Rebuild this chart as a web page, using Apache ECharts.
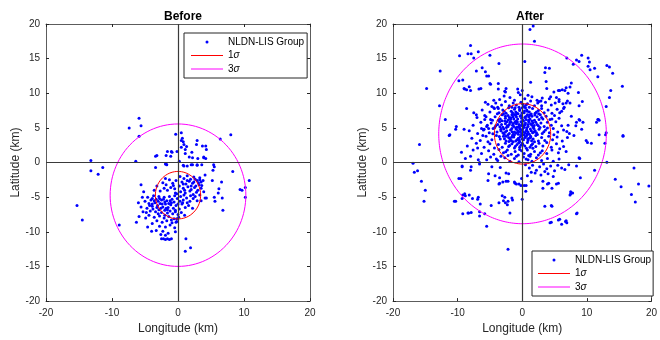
<!DOCTYPE html>
<html><head><meta charset="utf-8">
<script src="https://cdn.jsdelivr.net/npm/echarts@6/dist/echarts.min.js"></script>
<style>html,body{margin:0;padding:0;background:#fff}#c{width:660px;height:340px}</style>
</head><body><div id="c"></div>
<script>
// ---------- data ----------
const panelTitles = ['Before', 'After'];
const legendNames = ['NLDN-LIS Group', '1σ', '3σ'];
const seriesColors = ['#0000ff', '#ff0000', '#ff00ff'];
const xRange = [-20, 20, 10];
const yRange = [-20, 20, 5];
const beforeCenter = [0, -4.71];
const beforeSigma = [3.43, 10.28];
const afterCenter = [0.05, 4.14];
const afterSigma = [4.36, 12.97];

const beforePoints = [
[-5.9,6.4],[-7.4,5.0],[-5.6,5.3],[-5.9,3.8],[-0.35,4.1],[0.5,4.3],[6.4,3.4],[8.0,4.0],
[-13.2,0.3],[-11.4,-0.7],[-13.2,-1.2],[-12.1,-1.7],[-15.3,-6.2],[-14.5,-8.3],[-8.9,-9.0],
[-6.4,0.2],[-3.4,0.9],[-3.2,1.0],[-3.4,-0.7],[-1.9,-0.2],[-1.7,-0.3],[0.9,-0.5],[2.0,-0.3],[2.9,-0.4],[3.9,0.7],[5.5,-0.6],[5.3,-1.1],[8.3,-1.3],[10.8,-2.6],[9.4,-3.9],[9.7,-4.0],[10.2,-3.6],[10.2,-5.0],[6.8,-6.9],[6.7,-5.1],[6.2,-3.8],[6.1,-4.4],[5.5,-5.0],[5.6,-5.6],[4.1,-5.1],[4.3,-5.1],[4.1,-1.8],[5.2,-2.6],[6.6,-2.8],[3.5,-2.8],[3.3,-2.5],[1.2,-11.0],[1.9,-12.3],[1.1,-12.8],
[-1.0,1.6],[-1.1,0.9],[-0.15,1.6],[0.5,2.2],[0.9,2.6],[1.1,1.9],[0.5,3.2],[2.9,3.2],[2.8,2.6],[3.7,2.4],[4.3,1.9],[1.7,0.8],[2.2,0.7],[3.9,0.8],[-1.8,1.0],[0.8,3.0],[1.3,2.3],[0.2,0.2],[1.1,1.3],[0.66,3.5],[2.1,1.5],[3.0,0.6],[2.9,-0.3],[3.6,-0.3],[5.4,-0.3],[4.2,0.6],[-0.9,1.5],[-1.6,1.6],[-1.8,-0.2],[0.8,-0.4],[1.4,-0.5],[2.2,-0.3],[4.2,2.4],
[0.3,-2.0],[0.9,-2.3],[1.4,-1.9],[1.9,-2.4],[2.4,-2.1],[2.9,-2.6],[3.3,-2.2],[0.6,-2.8],[1.2,-3.1],[1.7,-2.7],[2.2,-3.0],[2.7,-3.4],[3.1,-2.9],[3.6,-3.3],[0.2,-3.4],[0.8,-3.7],[1.5,-3.5],[2.0,-3.9],[2.5,-3.6],[3.0,-4.0],[3.5,-3.7],[0.4,-4.2],[1.1,-4.4],[1.8,-4.1],[2.3,-4.6],[2.8,-4.3],[3.3,-4.7],[-0.3,-2.6],[-0.8,-3.0],[-1.3,-2.5],[-1.8,-3.2],[-2.3,-2.9],[-0.5,-3.8],[-1.1,-3.6],[-1.6,-4.0],[-2.1,-3.7],[-2.7,-4.1],[-3.2,-3.4],[-3.6,-4.0],[-0.2,-4.5],[1.4,-2.6],[2.6,-2.4],[3.8,-2.6],[3.9,-4.2],[-1.9,-2.3],
[-4.6,-5.0],[-4.1,-5.4],[-3.7,-4.8],[-3.3,-5.3],[-2.9,-4.9],[-2.5,-5.4],[-2.1,-5.0],[-1.7,-5.5],[-1.3,-4.9],[-0.9,-5.3],[-0.5,-4.8],[-0.1,-5.2],[0.4,-4.9],[0.8,-5.4],[1.3,-5.1],[1.8,-5.6],[2.3,-5.2],[2.9,-5.5],[-4.4,-5.9],[-3.9,-6.3],[-3.5,-5.8],[-3.1,-6.2],[-2.7,-5.9],[-2.3,-6.4],[-1.9,-6.0],[-1.5,-6.5],[-1.1,-6.1],[-0.7,-6.6],[-0.3,-6.2],[0.2,-6.7],[0.6,-6.0],[1.1,-6.5],[1.6,-6.2],[2.2,-6.6],[-4.7,-6.6],[-4.2,-7.0],[-3.8,-6.7],[-3.4,-7.1],[-2.9,-6.8],[-2.5,-7.2],[-2.0,-6.9],[-1.6,-7.3],[-1.2,-7.0],[-0.8,-7.4],[-0.4,-7.1],[0.0,-7.5],[0.5,-7.2],[1.0,-7.6],[-4.4,-7.6],[-3.6,-7.9],[-2.8,-7.7],[-2.1,-8.0],[-1.4,-7.8],[-0.6,-8.1],[0.1,-7.9],[-3.2,-8.4],[-2.4,-8.6],[-1.7,-8.4],[-0.9,-8.7],[-0.2,-8.5],[-3.9,-8.8],[-2.8,-9.2],[-1.9,-9.3],[-1.2,-9.0],[-0.5,-9.4],[-3.3,-9.8],[-2.3,-9.9],[-1.5,-10.2],[-2.6,-10.4],[-1.9,-10.5],[-2.5,-11.0],[-2.2,-11.0],[-1.9,-11.1],[-1.6,-11.0],[-1.3,-11.1],[-1.0,-11.0],[-0.4,-10.0],[-4.0,-9.9],[-4.9,-8.0],[-5.3,-7.1],[-5.6,-6.4],[-5.0,-5.6],[-5.4,-5.0],[-6.0,-5.8],[-5.9,-7.8],[-6.3,-8.6],[-4.6,-9.3],[-5.2,-4.2],[-5.6,-3.2],
[-0.6,-5.7],[0.0,-6.0],[0.7,-5.8],[-1.0,-5.8],[-2.0,-5.7],[-3.0,-5.6],[-2.6,-6.6],[-1.8,-6.6],[-0.4,-4.4],[0.9,-4.7],[1.9,-4.8],[-3.9,-5.2],[3.5,-5.5],[-0.2,-8.1],[-0.3,-8.6],[-4.3,-6.2],[-3.2,-6.5],[-2.2,-5.3],[-1.4,-5.9],[0.3,-5.6],[1.4,-5.8],[2.6,-4.9],[-0.7,-3.3],[2.0,-3.4],
[-3.6,-5.5],[-2.4,-6.0],[-1.2,-5.5],[-0.4,-6.9],[-3.0,-7.4],[-4.8,-7.2],[-2.0,-7.6],[-1.0,-8.3],[0.8,-3.1],[2.4,-2.8],[1.0,-4.0],[3.2,-3.2],[-3.9,-6.0],[-2.8,-5.2],[-1.6,-6.8]
];

const afterPoints = [
[1.7,19.7],[1.2,19.2],[1.9,17.5],[-8.0,16.9],[-8.4,15.7],[-7.9,15.7],[-6.8,16.0],[-9.7,15.4],[-7.5,15.1],[-5.0,15.5],[-3.6,14.3],[0.4,14.6],[-12.7,13.2],[-7.1,13.2],[-6.2,13.7],[-5.7,13.1],[-5.2,12.5],[-9.8,11.8],[-14.8,10.7],[-9.0,10.7],[-8.6,10.5],[-8.0,10.4],[-8.2,10.95],[-6.7,10.6],[-6.4,10.7],[-5.0,11.4],[-3.7,11.4],[-3.7,10.6],[-2.5,10.7],[-2.7,10.3],[1.3,11.6],[3.6,13.7],[4.2,13.6],[3.5,13.0],[3.7,11.7],[3.8,10.7],[4.9,10.2],[5.6,10.4],[6.2,10.5],[6.8,10.8],[7.6,11.5],[7.1,10.0],[4.4,9.5],[5.3,9.4],[5.7,8.8],[6.3,8.5],[6.8,8.6],[7.4,8.6],[6.9,15.1],[8.4,14.8],[8.8,14.6],[9.2,15.5],[7.9,14.2],[10.2,15.1],[10.4,14.5],[10.2,13.9],[10.5,13.4],[11.2,13.6],[11.7,12.4],[13.1,14.0],[13.5,13.8],[14.0,12.9],[15.5,11.0],[13.7,10.4],[13.5,9.4],[13.0,8.1],[11.7,6.2],[11.9,6.1],[13.0,4.3],[15.6,3.8],[8.8,6.2],[8.4,5.8],[7.6,6.7],[7.1,5.4],[5.8,7.2],[6.1,7.4],[-12.8,8.2],[-11.9,6.2],[-11.3,3.9],[-10.2,5.2],[-8.6,7.8],[-7.5,7.2],[-7.1,6.9],[-5.7,8.7],[-4.7,8.1],[-4.4,7.9],[-3.7,7.8],[-5.8,6.2],[-6.3,4.9],[-6.0,4.7],[-9.0,4.8],[-5.4,5.4],[-5.2,4.9],
[-11.2,4.0],[-15.9,2.6],[-16.9,-0.1],[-16.7,-1.4],[-16.2,-1.2],[-15.6,-2.7],[-15.0,-4.0],[-15.2,-5.6],[-8.0,0.9],[-9.3,-0.6],[-7.9,-0.6],[-6.6,-0.2],[-5.5,0.4],[-4.7,-0.6],[-3.4,-0.7],[-2.5,-1.5],[-2.1,-1.6],[-9.8,-2.3],[-9.5,-2.3],[-5.3,-2.6],[-3.6,-3.1],[-3.0,-2.8],[-2.2,-2.7],[-1.1,-3.0],[-0.9,-3.1],[-0.2,-3.3],[0.6,-3.3],[-0.1,-2.3],[1.4,-2.7],[0.55,-4.15],[-9.2,-4.7],[-8.9,-4.5],[-8.2,-4.7],[-7.7,-5.2],[-6.9,-5.3],[-10.3,-5.6],[-9.2,-7.4],[-8.4,-7.3],[-7.9,-7.2],[-6.6,-7.1],[-6.6,-7.7],[-5.8,-7.4],[-5.5,-9.2],[-4.8,-6.2],[-3.6,-5.8],[-3.1,-4.8],[-2.7,-5.0],[-2.9,-5.5],[-2.6,-5.8],[-2.3,-6.1],[-2.2,-5.6],[-1.6,-5.1],[-1.5,-5.4],[-1.9,-7.3],[0.0,-5.3],[-2.2,-12.5],[3.2,-2.7],[3.2,-3.7],[3.9,-3.1],[4.1,-3.0],[5.3,-3.1],[5.6,-3.0],[4.6,-3.7],[3.5,-6.3],[4.5,-6.2],[7.4,-4.7],[7.5,-4.5],[7.8,-4.4],[8.4,-7.4],[4.3,-8.7],[5.6,-8.3],[6.1,-8.9],[6.7,-8.5],[6.9,-8.7],[8.4,-0.5],[11.2,-1.1],[14.4,-2.4],[15.3,-3.5],[17.3,-0.8],[16.9,-4.6],[17.5,-5.7],[18.0,-3.1],[19.6,-3.4],[8.8,0.7],[5.8,2.0],[10.1,2.9],[10.7,2.8],[11.9,4.0],[12.9,4.0],[15.6,3.9],
[-10.3,4.8],[-5.5,12.5],[-4.9,11.3],[-2.6,10.2],[-0.7,10.6],[0.0,10.4],[7.4,10.9],[5.8,10.4],[6.6,10.4],[8.7,10.1],[5.7,9.1],[6.5,8.0],[7.0,8.9],[6.4,7.8],[8.8,8.2],[9.3,8.8],[8.9,6.1],[9.4,5.8],[9.2,4.8],[8.3,5.3],[6.9,4.5],[8.0,3.9],[9.9,3.2],[11.8,6.2],[11.5,5.8],[12.8,2.8],[13.1,0.05],[8.9,0.6],[9.0,-2.2],[7.5,-4.2],[8.5,-7.3],[6.8,-8.4],[5.8,-8.2],[4.5,-8.6],[4.6,-6.3],[0.3,-3.3],[-0.5,-3.1],[-1.2,-2.8],[-2.5,-2.7],[-3.5,-3.0],[-3.5,-2.2],[-4.2,-1.9],[-5.2,-1.6],[-6.6,0.0],[-8.0,-1.1],[-9.3,-0.5],[-8.8,-4.8],[-9.3,-5.2],[-10.5,-5.6],[-6.8,-5.0],[-6.5,-6.0],[-8.3,-7.3],[-9.2,11.9],[-8.9,10.6],
[-2.8,9.6],[-1.9,9.4],[-0.6,10.1],[-0.3,9.8],[0.4,9.2],[1.5,9.5],[2.3,9.0],[3.1,9.3],[-3.5,9.1],[-4.4,9.0],[-1.2,9.0],[0.9,9.7],[4.2,9.2],[2.6,8.8],
[-5.3,8.4],[-4.1,8.6],[-3.2,8.3],[-2.6,8.8],[-2.0,8.2],[-1.4,8.6],[-0.9,8.3],[-0.2,8.7],[0.3,8.1],[0.8,8.5],[1.3,8.9],[1.9,8.2],[2.4,8.6],[3.0,8.2],[3.6,8.7],[4.5,8.3],[5.1,8.6],[-3.8,8.0],[-1.6,8.0],[0.1,8.4],[2.9,8.9],[-0.5,8.0],[1.1,8.0],
[-6.2,7.6],[-5.0,7.3],[-4.3,7.8],[-3.6,7.2],[-3.0,7.6],[-2.5,7.1],[-2.1,7.9],[-1.7,7.4],[-1.2,7.7],[-0.8,7.1],[-0.4,7.5],[0.0,7.9],[0.3,7.2],[0.7,7.6],[1.1,7.3],[1.6,7.8],[2.0,7.1],[2.5,7.5],[3.0,7.8],[3.4,7.2],[4.0,7.6],[4.6,7.1],[5.4,7.7],[-1.0,7.3],[0.5,7.9],[2.2,7.3],[-2.8,7.4],[1.4,7.0],
[-7.0,6.5],[-5.8,6.8],[-4.9,6.2],[-4.2,6.6],[-3.7,6.1],[-3.1,6.9],[-2.6,6.4],[-2.2,6.8],[-1.8,6.2],[-1.4,6.6],[-1.0,6.9],[-0.7,6.3],[-0.3,6.7],[0.1,6.1],[0.4,6.5],[0.8,6.9],[1.2,6.3],[1.5,6.7],[1.9,6.1],[2.3,6.6],[2.8,6.9],[3.2,6.3],[3.7,6.7],[4.3,6.2],[5.0,6.8],[5.7,6.4],[-0.9,6.0],[0.6,6.2],[-2.0,6.5],[2.6,6.2],[-0.1,6.4],[1.0,6.6],[-1.6,6.9],[3.0,6.5],
[-7.6,5.4],[-6.4,5.8],[-5.5,5.2],[-4.8,5.7],[-4.1,5.3],[-3.5,5.9],[-3.0,5.1],[-2.6,5.6],[-2.2,5.2],[-1.9,5.8],[-1.5,5.4],[-1.1,5.9],[-0.8,5.1],[-0.5,5.5],[-0.2,5.9],[0.2,5.3],[0.5,5.7],[0.9,5.2],[1.3,5.6],[1.7,5.1],[2.1,5.8],[2.5,5.3],[2.9,5.7],[3.4,5.2],[3.9,5.8],[4.5,5.4],[5.2,5.9],[6.1,5.3],[-1.3,5.2],[0.0,5.6],[1.0,5.9],[-0.4,5.0],[1.5,5.4],[-2.4,5.9],[0.7,5.0],[-0.9,5.6],[2.3,5.5],[-3.2,5.5],
[-8.2,4.6],[-6.9,4.2],[-5.9,4.8],[-5.1,4.3],[-4.5,4.9],[-3.9,4.4],[-3.3,4.8],[-2.8,4.1],[-2.4,4.6],[-2.0,4.2],[-1.6,4.9],[-1.2,4.4],[-0.9,4.8],[-0.6,4.1],[-0.3,4.5],[0.1,4.9],[0.4,4.3],[0.7,4.7],[1.1,4.1],[1.4,4.6],[1.8,4.9],[2.2,4.3],[2.6,4.8],[3.1,4.2],[3.6,4.7],[4.2,4.3],[4.8,4.9],[5.5,4.4],[6.4,4.7],[7.3,4.2],[-0.1,4.2],[0.9,4.4],[-1.4,4.1],[2.0,4.6],[-0.7,4.6],[1.6,4.3],[-2.6,4.4],[0.3,4.0],
[-7.8,3.5],[-6.5,3.2],[-5.6,3.8],[-4.7,3.3],[-4.0,3.9],[-3.4,3.4],[-2.9,3.8],[-2.5,3.1],[-2.1,3.6],[-1.7,3.2],[-1.3,3.7],[-1.0,3.1],[-0.6,3.5],[-0.2,3.9],[0.2,3.3],[0.5,3.7],[0.9,3.2],[1.3,3.8],[1.7,3.4],[2.1,3.9],[2.5,3.1],[3.0,3.6],[3.5,3.2],[4.1,3.8],[4.7,3.3],[5.4,3.7],[6.2,3.1],[7.0,3.6],[-0.4,3.0],[0.7,3.9],[1.9,3.0],[-1.5,3.9],[0.0,3.4],[1.1,3.5],
[-8.5,2.4],[-7.1,2.8],[-5.9,2.2],[-5.0,2.7],[-4.3,2.1],[-3.7,2.6],[-3.1,2.2],[-2.6,2.8],[-2.1,2.3],[-1.6,2.7],[-1.2,2.1],[-0.8,2.6],[-0.4,2.2],[0.0,2.8],[0.4,2.4],[0.8,2.9],[1.2,2.2],[1.6,2.7],[2.1,2.3],[2.6,2.8],[3.2,2.4],[3.8,2.9],[4.5,2.2],[5.3,2.7],[6.4,2.3],[-0.2,2.5],[1.4,2.5],
[-9.4,1.5],[-7.6,1.8],[-6.3,1.3],[-5.2,1.7],[-4.4,1.2],[-3.6,1.9],[-2.9,1.4],[-2.3,1.8],[-1.7,1.2],[-1.1,1.6],[-0.6,1.1],[-0.1,1.7],[0.3,1.3],[0.8,1.8],[1.3,1.2],[1.9,1.6],[2.5,1.1],[3.1,1.7],[3.8,1.3],[4.6,1.8],[5.6,1.4],[6.8,1.6],[-0.4,1.9],[1.0,1.0],
[-8.8,0.6],[-6.8,0.4],[-4.9,0.8],[-3.8,0.3],[-2.7,0.7],[-1.9,0.2],[-1.2,0.6],[-0.5,0.1],[0.2,0.8],[0.9,0.4],[1.5,0.2],[2.2,0.7],[3.0,0.3],[3.9,0.6],[4.8,0.2],[5.7,0.5],[-3.3,0.9],[1.2,0.9],
[0.5,-0.3],[1.1,-0.8],[1.6,-0.4],[2.2,-1.1],[2.7,-0.6],[3.3,-0.2],[3.8,-0.9],[4.4,-0.5],[5.0,-1.2],[5.5,-0.4],[6.1,-0.8],[2.0,-1.5],[2.9,-1.8],[1.4,-1.4],[4.0,-1.6],[4.8,-2.0],[3.5,-1.3],[0.8,-1.9],[6.6,-1.0],[7.2,-0.3],
[-2.7,6.0],[-2.3,5.3],[-1.8,4.7],[-1.3,6.3],[-1.0,5.0],[-0.6,4.4],[-0.2,6.8],[0.3,5.1],[0.6,4.6],[1.0,6.1],[1.3,3.6],[-2.5,3.8],[-1.9,3.4],[-0.8,3.3],[0.4,3.6],[-1.5,7.2],[-0.4,7.7],[0.8,7.4],[-2.9,7.0],[-3.4,6.3],[-3.8,5.5],[-3.3,4.6],[-2.0,5.5],[-0.5,5.2],[0.9,5.5],[1.8,4.4],[-1.2,4.0],[0.0,4.7],[-0.9,6.6],[0.2,6.0],[-1.7,5.8],[-2.2,4.0],[1.5,6.0],[-0.3,3.7],[-1.1,7.9],[0.6,8.3],[-3.0,4.3],[-2.6,6.7],[-1.4,3.0],[0.1,2.6],
[-2.45,5.05],[-1.75,6.45],[-0.95,4.25],[-0.15,5.35],[0.55,6.65],[1.25,4.85],[-3.15,6.05],[-2.05,3.05],[-0.55,2.85],[0.85,3.45],[1.65,5.75],[-1.35,5.65],[-0.65,7.05],[0.35,7.45],[-2.85,4.85],[-3.55,3.75],[-4.25,5.05],[-4.6,6.1],[-4.55,4.15],[-3.85,7.05],[2.35,4.05],[2.75,5.05],[1.95,6.85],[2.55,7.05],[3.35,4.45],[-1.95,2.45],[-1.05,2.35],[0.65,2.05],[1.65,2.05],[-2.55,1.55],[-0.35,4.85],[0.15,4.45],[-1.55,4.45],[-0.75,5.85],[0.45,5.45],[-2.15,6.15],[-1.25,6.95],[-0.05,7.15],[1.15,6.85],[1.85,5.35],[-3.45,5.15],[-2.75,3.45],[-1.65,3.65],[-0.45,3.25],[0.75,4.15],[1.45,3.15],[-5.6,6.6],[-6.1,3.9],[-5.3,3.0],[4.6,6.3],[3.9,5.0],[4.9,4.0],[2.8,1.4],[-2.2,1.0],[0.6,0.5],[-0.9,0.9],[-4.0,0.5],[-6.9,2.1]
];

// ---------- chart ----------
const FONT = '"Liberation Sans", Arial, Helvetica, sans-serif';
const AX = '#262626';
const LINE_ICON = 'path://M0,0H32V1H0Z';

function circlePath(c, r) {
  const pts = [];
  const n = 240;
  for (let i = 0; i <= n; i++) {
    const a = i / n * 2 * Math.PI;
    pts.push([c[0] + r * Math.cos(a), c[1] + r * Math.sin(a)]);
  }
  return pts;
}

const grids = [
  {left: 46, top: 24, width: 264, height: 280},
  {left: 393, top: 24, width: 264, height: 280}
];
const xAxes = [], yAxes = [];
grids.forEach((g, i) => {
  const baseX = {type: 'value', gridIndex: i, min: xRange[0], max: xRange[1], interval: xRange[2],
    splitLine: {show: false},
    axisLine: {show: true, onZero: false, lineStyle: {color: '#5c5c5c', width: 1}},
    axisTick: {show: true, inside: true, length: 3, lineStyle: {color: AX}}};
  const baseY = {type: 'value', gridIndex: i, min: yRange[0], max: yRange[1], interval: yRange[2],
    splitLine: {show: false},
    axisLine: {show: true, onZero: false, lineStyle: {color: '#5c5c5c', width: 1}},
    axisTick: {show: true, inside: true, length: 3, lineStyle: {color: AX}}};
  xAxes.push(Object.assign({}, baseX, {position: 'bottom',
    axisLabel: {color: AX, fontSize: 10, fontFamily: FONT, margin: 7},
    name: 'Longitude (km)', nameLocation: 'middle', nameGap: 21,
    nameTextStyle: {color: AX, fontSize: 12, fontFamily: FONT}}));
  xAxes.push(Object.assign({}, baseX, {position: 'top', axisLabel: {show: false}}));
  yAxes.push(Object.assign({}, baseY, {position: 'left',
    axisLabel: {color: AX, fontSize: 10, fontFamily: FONT, margin: 6},
    name: 'Latitude (km)', nameLocation: 'middle', nameGap: 23,
    nameTextStyle: {color: AX, fontSize: 12, fontFamily: FONT}}));
  yAxes.push(Object.assign({}, baseY, {position: 'right', axisLabel: {show: false}}));
});

const panels = [
  {pts: beforePoints, c: beforeCenter, s: beforeSigma},
  {pts: afterPoints, c: afterCenter, s: afterSigma}
];
const series = [];
panels.forEach((p, i) => {
  series.push({
    name: legendNames[0], type: 'scatter', xAxisIndex: 2 * i, yAxisIndex: 2 * i,
    data: p.pts, symbol: 'circle', symbolSize: 3,
    itemStyle: {color: seriesColors[0], opacity: 1}, z: 3,
    markLine: {silent: true, symbol: ['none', 'none'], label: {show: false},
      lineStyle: {color: '#3a3a3a', width: 1.2, type: 'solid'},
      emphasis: {disabled: true},
      data: [{xAxis: 0}, {yAxis: 0}]}
  });
  series.push({
    name: legendNames[1], type: 'line', xAxisIndex: 2 * i, yAxisIndex: 2 * i,
    data: circlePath(p.c, p.s[0]), symbol: 'none', smooth: false,
    lineStyle: {color: seriesColors[1], width: 1}, itemStyle: {color: seriesColors[1]}, z: 4
  });
  series.push({
    name: legendNames[2], type: 'line', xAxisIndex: 2 * i, yAxisIndex: 2 * i,
    data: circlePath(p.c, p.s[1]), symbol: 'none', smooth: false,
    lineStyle: {color: seriesColors[2], width: 1}, itemStyle: {color: seriesColors[2]}, z: 4
  });
});

function legendAt(left, top, padding) {
  return {
    left: left, top: top, orient: 'vertical', padding: padding,
    backgroundColor: '#ffffff', borderColor: AX, borderWidth: 1, borderRadius: 0,
    itemWidth: 32, itemHeight: 3, itemGap: 1.5, itemTextGap: 3,
    selectedMode: false, symbolKeepAspect: true,
    data: [
      {name: legendNames[0], icon: 'circle', itemStyle: {color: seriesColors[0], borderWidth: 0}},
      {name: legendNames[1], icon: LINE_ICON, itemStyle: {color: seriesColors[1], borderWidth: 0, opacity: 1}},
      {name: legendNames[2], icon: LINE_ICON, itemStyle: {color: seriesColors[2], borderWidth: 0, opacity: 1}}
    ],
    textStyle: {color: '#000', fontSize: 10, fontFamily: FONT, lineHeight: 12,
      rich: {a: {color: '#000', fontSize: 10, fontFamily: FONT, lineHeight: 12},
             b: {color: '#000', fontSize: 10, fontFamily: FONT, fontStyle: 'italic', lineHeight: 12}}},
    formatter: function (name) {
      if (name === legendNames[0]) return name;
      return '{a|' + name.charAt(0) + '}{b|' + name.slice(1) + '}';
    }
  };
}

const chart = echarts.init(document.getElementById('c'), null, {renderer: 'canvas'});
chart.setOption({
  animation: false,
  backgroundColor: '#ffffff',
  title: [
    {text: panelTitles[0], left: 159, top: 6, textStyle: {fontSize: 12, fontWeight: 'bold', color: '#000', fontFamily: FONT}},
    {text: panelTitles[1], left: 511, top: 6, textStyle: {fontSize: 12, fontWeight: 'bold', color: '#000', fontFamily: FONT}}
  ],
  grid: grids,
  xAxis: xAxes,
  yAxis: yAxes,
  legend: [legendAt(184, 33, [3, 3, 3, 7]), legendAt(532, 251, [3, 2, 3, 6])],
  series: series
});
</script>
</body></html>
